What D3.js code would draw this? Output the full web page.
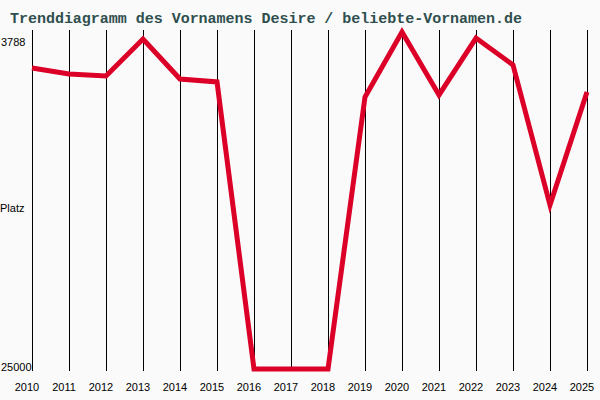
<!DOCTYPE html>
<html>
<head>
<meta charset="utf-8">
<script src="https://cdn.jsdelivr.net/npm/d3@7"></script>
<style>
  body { margin: 0; background: #fafafa; }
  svg { display: block; }
</style>
</head>
<body>
<div id="chart"></div>
<script>
// Data
const years = [2010, 2011, 2012, 2013, 2014, 2015, 2016, 2017, 2018, 2019, 2020, 2021, 2022, 2023, 2024, 2025];
const ranks = [6050, 6430, 6560, 4230, 6750, 6930, 25000, 25000, 25000, 7880, 3788, 7750, 4170, 5860, 14680, 7560];
const rankTicks = [3788, 25000];
const title = 'Trenddiagramm des Vornamens Desire / beliebte-Vornamen.de';

const width = 600;
const height = 400;

const svg = d3.select('#chart')
  .append('svg')
  .attr('width', width)
  .attr('height', height);

svg.append('rect')
  .attr('width', width)
  .attr('height', height)
  .attr('fill', '#fafafa');

// Scales
const x = d3.scaleLinear().domain([2010, 2025]).range([32, 587]);
const y = d3.scaleLinear().domain([3788, 25000]).range([32, 369]);

// Title
svg.append('text')
  .attr('x', 10)
  .attr('y', 23)
  .attr('font-family', 'Liberation Mono, Courier New, monospace')
  .attr('font-weight', 'bold')
  .attr('font-size', 15)
  .attr('fill', '#2f4f4f')
  .attr('textLength', 512)
  .attr('lengthAdjust', 'spacing')
  .text(title);

// Vertical grid lines, one per year
svg.append('g')
  .selectAll('line')
  .data(years)
  .enter().append('line')
  .attr('x1', d => x(d) + 0.5)
  .attr('x2', d => x(d) + 0.5)
  .attr('y1', 30)
  .attr('y2', 371)
  .attr('stroke', '#000')
  .attr('stroke-width', 1);

// Year labels
svg.append('g')
  .selectAll('text')
  .data(years)
  .enter().append('text')
  .attr('x', d => x(d) - 5)
  .attr('y', 391)
  .attr('text-anchor', 'middle')
  .attr('font-family', 'Liberation Sans, Arial, sans-serif')
  .attr('font-size', 11)
  .attr('fill', '#000')
  .text(d => d);

// Rank labels (top one sits a little below the line's best value)
svg.append('g')
  .selectAll('text')
  .data(rankTicks)
  .enter().append('text')
  .attr('x', 1)
  .attr('y', (d, i) => i === 0 ? y(d) + 14 : y(d) + 2)
  .attr('font-family', 'Liberation Sans, Arial, sans-serif')
  .attr('font-size', 11)
  .attr('fill', '#000')
  .text(d => d);

svg.append('text')
  .attr('x', 0)
  .attr('y', 212)
  .attr('font-family', 'Liberation Sans, Arial, sans-serif')
  .attr('font-size', 11)
  .attr('fill', '#000')
  .text('Platz');

// Trend line
const line = d3.line()
  .x((d, i) => x(years[i]))
  .y(d => y(d));

svg.append('path')
  .datum(ranks)
  .attr('d', line)
  .attr('fill', 'none')
  .attr('stroke', '#dc0028')
  .attr('stroke-width', 5)
  .attr('stroke-linejoin', 'miter');
</script>
</body>
</html>
